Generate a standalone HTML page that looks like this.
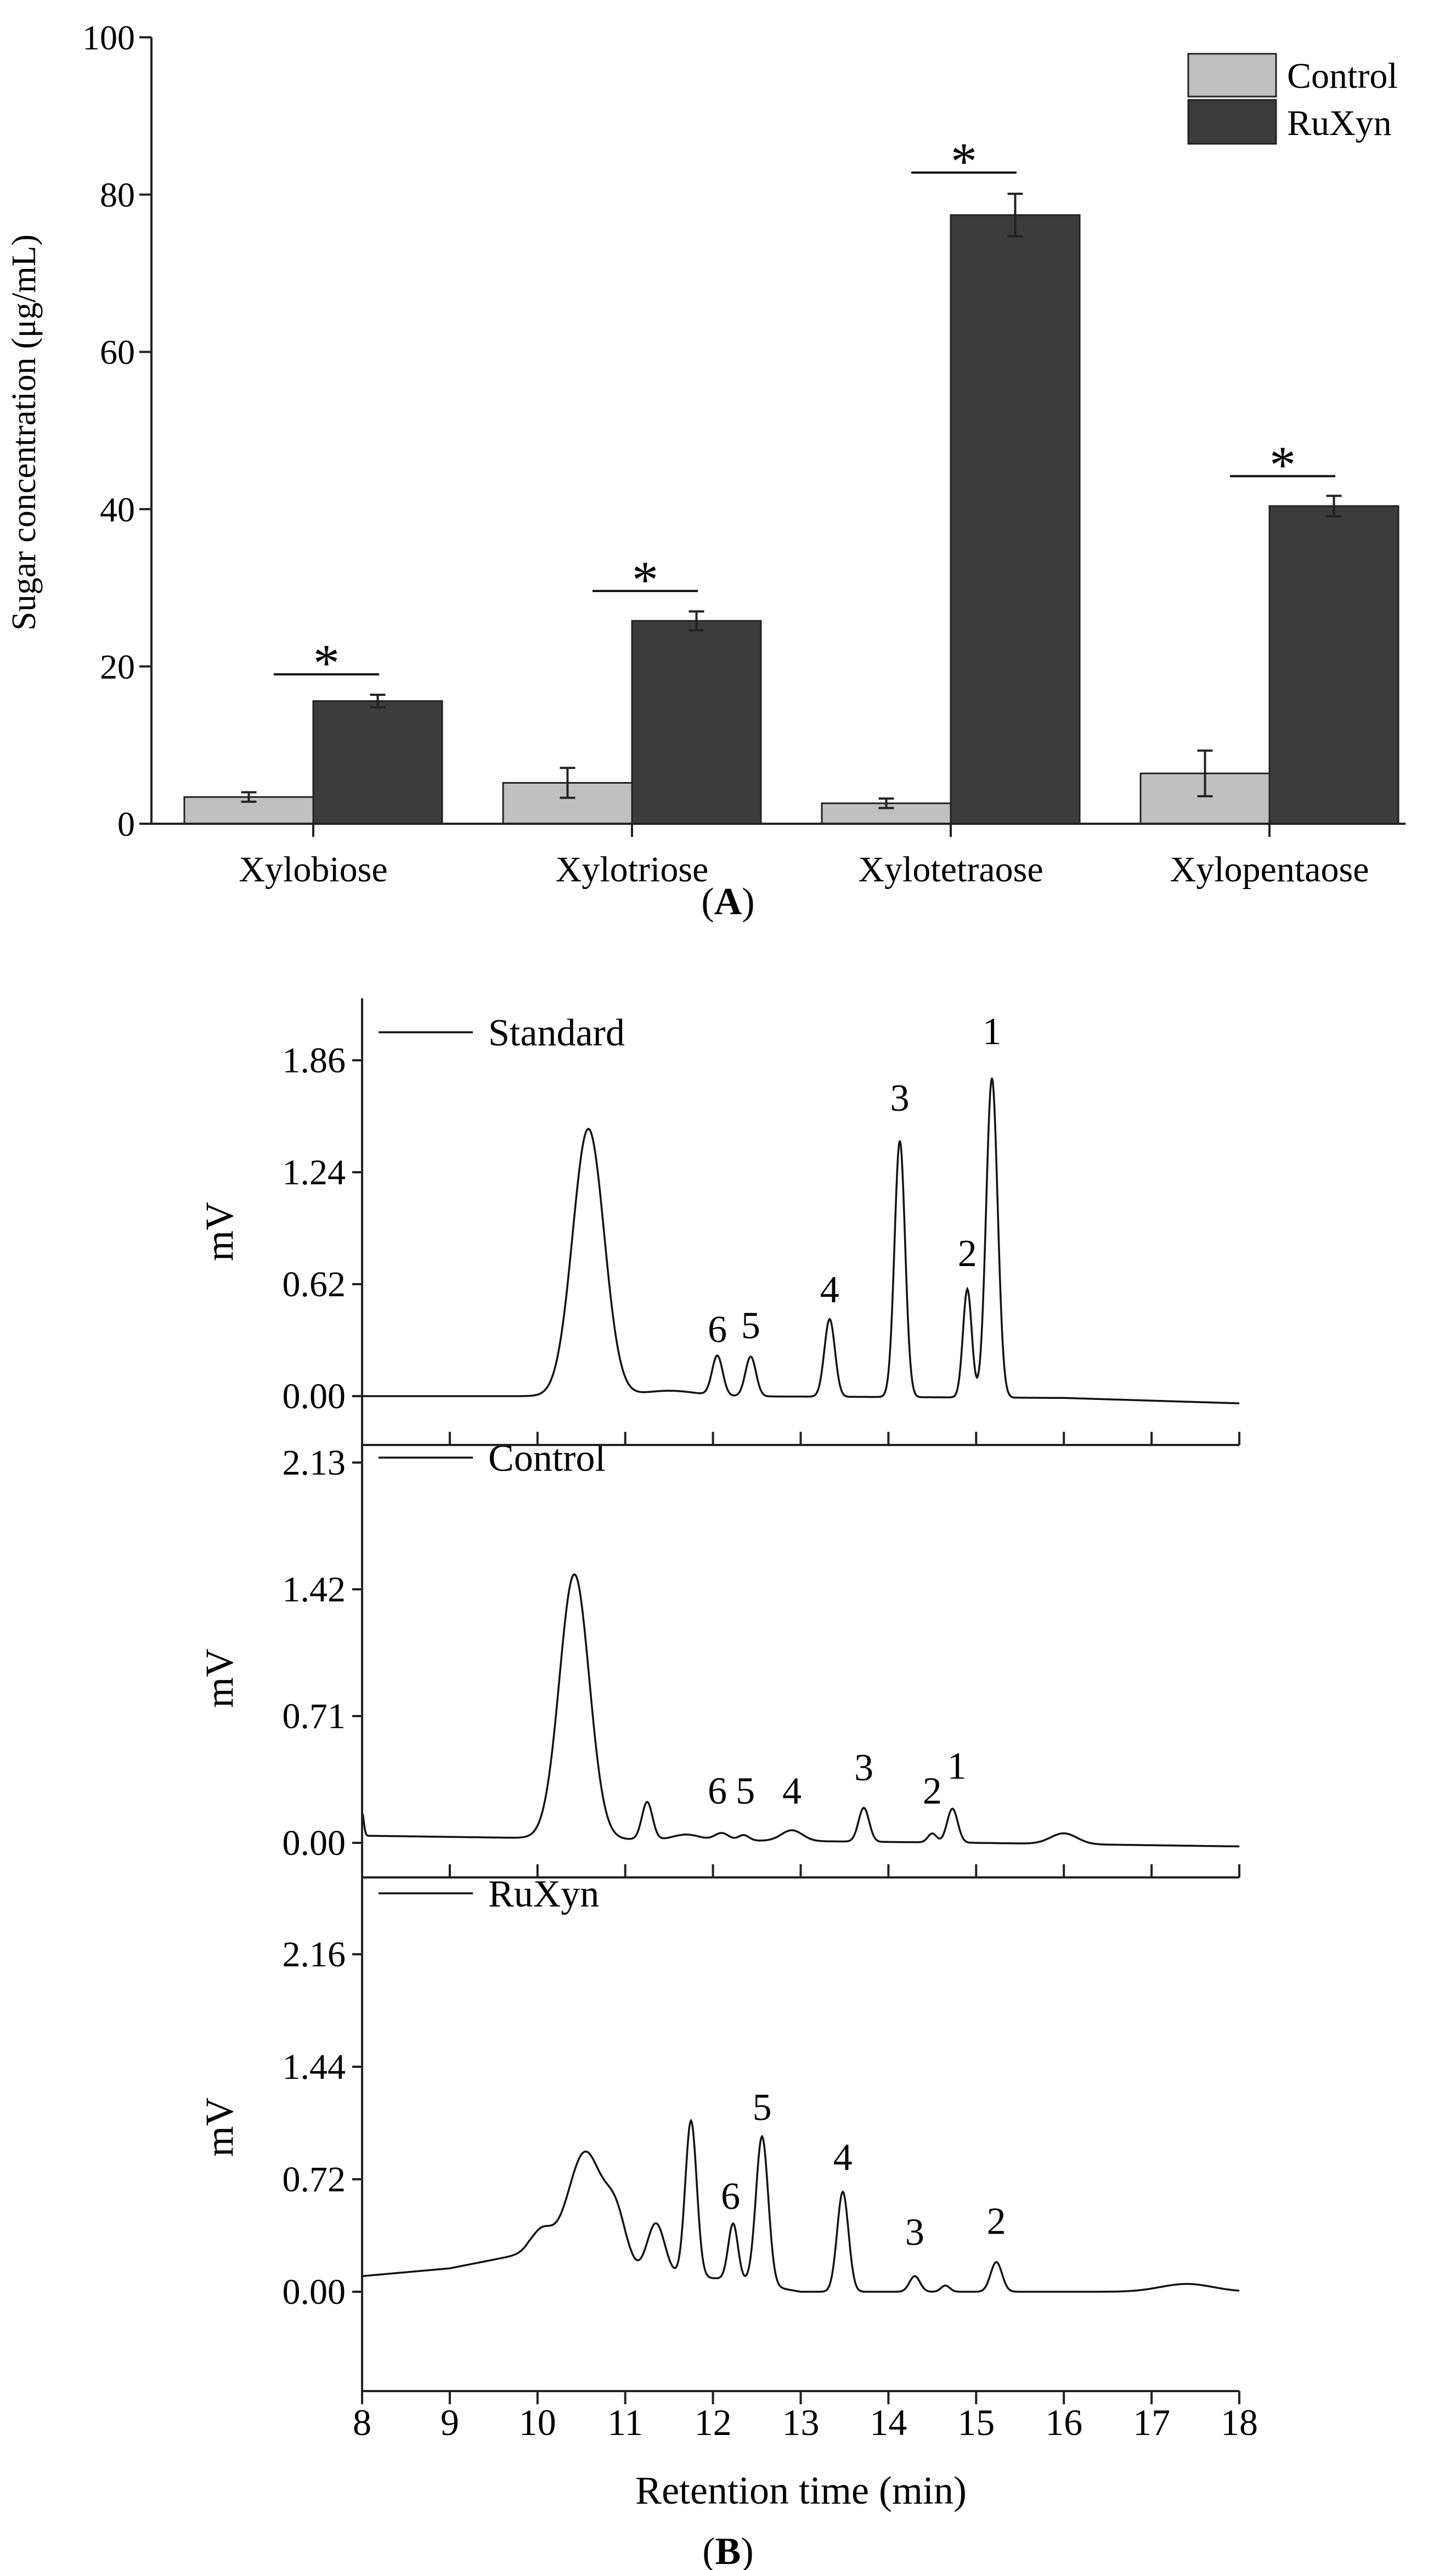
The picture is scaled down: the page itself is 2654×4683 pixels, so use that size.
<!DOCTYPE html>
<html><head><meta charset="utf-8"><style>
html,body{margin:0;padding:0;background:#fff}
svg{display:block;font-family:"Liberation Serif",serif}
</style></head><body>
<svg id="fig" width="2654" height="4683" viewBox="0 0 2654 4683" xmlns="http://www.w3.org/2000/svg"></svg>
<script>
// ---- Panel A data ----
const categories = ["Xylobiose","Xylotriose","Xylotetraose","Xylopentaose"];
const controlVals = [3.4,5.2,2.6,6.4];
const controlErr = [0.6,1.9,0.6,2.9];
const ruxynVals = [15.6,25.8,77.4,40.4];
const ruxynErr = [0.8,1.2,2.7,1.3];
const sigLevels = [19.0,29.6,82.8,44.2];
const yTicksA = [0,20,40,60,80,100];
// ---- Panel B data ----
const xTicksB = [8,9,10,11,12,13,14,15,16,17,18];
const stdTicks = ["0.00","0.62","1.24","1.86"];
const ctrlTicks = ["0.00","0.71","1.42","2.13"];
const ruxTicks = ["0.00","0.72","1.44","2.16"];
// peaks: [time, height, sigma]
const stdPeaks = [[10.58,1.48,0.18],[11.5,0.03,0.3],[12.05,0.22,0.06],[12.43,0.22,0.06],[13.33,0.43,0.06],[14.13,1.42,0.06],[14.9,0.6,0.05],[15.18,1.77,0.065]];
const stdBase = [[8,0],[12,0],[16,-0.01],[18,-0.04]];
const stdLabels = [["6",12.05,0.3],["5",12.43,0.32],["4",13.33,0.52],["3",14.13,1.58],["2",14.9,0.72],["1",15.18,1.95]];
const ctrlPeaks = [[8.0,0.13,0.02],[10.42,1.48,0.17],[11.25,0.21,0.06],[11.7,0.03,0.15],[12.1,0.04,0.08],[12.35,0.03,0.06],[12.9,0.06,0.12],[13.72,0.19,0.06],[14.5,0.05,0.05],[14.73,0.19,0.06],[16.0,0.06,0.15]];
const ctrlBase = [[8,0.04],[11,0.02],[15,0.0],[18,-0.02]];
const ctrlLabels = [["6",12.05,0.22],["5",12.37,0.22],["4",12.9,0.22],["3",13.72,0.35],["2",14.5,0.22],["1",14.78,0.36]];
const ruxPeaks = [[10.05,0.15,0.12],[10.55,0.72,0.2],[10.9,0.3,0.12],[11.35,0.33,0.1],[11.75,1.0,0.065],[12.23,0.36,0.055],[12.56,0.95,0.07],[13.48,0.64,0.065],[14.3,0.1,0.06],[14.65,0.04,0.05],[15.23,0.19,0.065],[17.4,0.05,0.3]];
const ruxBase = [[8,0.1],[9,0.15],[9.9,0.25],[11,0.12],[12.2,0.08],[13,0.0],[18,0.0]];
const ruxLabels = [["6",12.2,0.53],["5",12.56,1.1],["4",13.48,0.78],["3",14.3,0.3],["2",15.23,0.37]];

const NS="http://www.w3.org/2000/svg";
const svg=document.getElementById('fig');
function el(tag,attrs,parent,text){const e=document.createElementNS(NS,tag);for(const k in attrs)e.setAttribute(k,attrs[k]);if(text!==undefined)e.textContent=text;(parent||svg).appendChild(e);return e;}

// ---------- Panel A ----------
const A={x0:276,x1:2562,y0:1501,y1:68};
const yA=v=>A.y0-(v/100)*(A.y0-A.y1);
const groupW=581, barW=235;
const cx=i=>571+i*groupW;
const gA=el('g',{});

categories.forEach((c,i)=>{
  const c1=el('rect',{x:cx(i)-barW,y:yA(controlVals[i]),width:barW,height:yA(0)-yA(controlVals[i]),fill:'#c0c0c0',stroke:'#222','stroke-width':3},gA);
  
  const r1=el('rect',{x:cx(i),y:yA(ruxynVals[i]),width:barW,height:yA(0)-yA(ruxynVals[i]),fill:'#3c3c3c',stroke:'#222','stroke-width':3},gA);
  
  [[cx(i)-barW/2,controlVals[i],controlErr[i]],[cx(i)+barW/2,ruxynVals[i],ruxynErr[i]]].forEach(([x,v,e])=>{
    const eb=el('path',{d:`M${x},${yA(v-e)}V${yA(v+e)}M${x-14},${yA(v-e)}H${x+14}M${x-14},${yA(v+e)}H${x+14}`,stroke:'#222','stroke-width':4,fill:'none'},gA);
    
  });
  const sl=el('line',{x1:cx(i)-72,x2:cx(i)+120,y1:yA(sigLevels[i]),y2:yA(sigLevels[i]),stroke:'#111','stroke-width':4},gA);
  
  const st=el('text',{x:cx(i)+24,y:yA(sigLevels[i])+12,'font-size':96,'text-anchor':'middle'},gA,'*');
  
  const tk=el('line',{x1:cx(i),x2:cx(i),y1:A.y0,y2:A.y0+24,stroke:'#222','stroke-width':4},gA);
  
  const lb=el('text',{x:cx(i),y:1606,'font-size':66,'text-anchor':'middle'},gA,c);
  
});
const axA=el('path',{d:`M${A.x0},${A.y1}V${A.y0}H${A.x1}`,stroke:'#222','stroke-width':4,fill:'none'},gA);

yTicksA.forEach(v=>{
  const t=el('line',{x1:A.x0-22,x2:A.x0,y1:yA(v),y2:yA(v),stroke:'#222','stroke-width':4},gA);
  
  const l=el('text',{x:A.x0-30,y:yA(v)+22,'font-size':64,'text-anchor':'end'},gA,String(v));
  
});
const yt=el('text',{x:0,y:0,'font-size':62,'text-anchor':'middle',transform:'translate(64,788) rotate(-90)'},gA,'Sugar concentration (μg/mL)');

const lg=el('g',{},gA);
const lc=el('rect',{x:2166,y:98,width:160,height:78,fill:'#c0c0c0',stroke:'#222','stroke-width':3},lg);

const lr=el('rect',{x:2166,y:182,width:160,height:80,fill:'#3c3c3c',stroke:'#222','stroke-width':3},lg);

const lt1=el('text',{x:2346,y:160,'font-size':66},lg,'Control');

const lt2=el('text',{x:2346,y:246,'font-size':66},lg,'RuXyn');

const pa=el('text',{x:1327,y:1666,'font-size':70,'text-anchor':'middle'},svg);

pa.innerHTML='(<tspan font-weight="bold">A</tspan>)';

// ---------- Panel B ----------
const B={x0:660,x1:2259};
const xB=t=>B.x0+(t-8)/10*(B.x1-B.x0);
function baseAt(base,t){for(let i=0;i<base.length-1;i++){if(t>=base[i][0]&&t<=base[i+1][0]){const f=(t-base[i][0])/(base[i+1][0]-base[i][0]);return base[i][1]+f*(base[i+1][1]-base[i][1]);}}return base[base.length-1][1];}
function panel(name,zeroY,step,tickLabels,peaks,base,labels,legendText,legendY){
  const g=el('g',{});
  
  const tv=parseFloat(tickLabels[1]);
  const yv=v=>zeroY-v/tv*step;
  let d='';
  for(let t=8;t<=18.0001;t+=0.01){
    let v=baseAt(base,t);
    peaks.forEach(p=>{v+=p[1]*Math.exp(-0.5*((t-p[0])/p[2])**2);});
    d+=(d?'L':'M')+xB(t).toFixed(1)+','+yv(v).toFixed(1);
  }
  const tr=el('path',{d:d,stroke:'#111','stroke-width':3.5,fill:'none'},g);
  
  tickLabels.forEach(s=>{
    const v=parseFloat(s);
    const t=el('line',{x1:B.x0-18,x2:B.x0,y1:yv(v),y2:yv(v),stroke:'#222','stroke-width':4},g);
    
    const l=el('text',{x:B.x0-30,y:yv(v)+22,'font-size':66,'text-anchor':'end'},g,s);
    
  });
  labels.forEach(([s,t,v])=>{
    const l=el('text',{x:xB(t),y:yv(v),'font-size':70,'text-anchor':'middle'},g,s);
    
  });
  const ll=el('line',{x1:690,x2:862,y1:legendY,y2:legendY,stroke:'#111','stroke-width':3.5},g);
  
  const lt=el('text',{x:890,y:legendY+24,'font-size':70},g,legendText);
  
  const mv=el('text',{x:0,y:0,'font-size':72,'text-anchor':'middle',transform:`translate(424,${zeroY-300}) rotate(-90)`},g,'mV');
  
}
panel('standard',2544,204,stdTicks,stdPeaks,stdBase,stdLabels,'Standard',1881);
panel('control',3358,231,ctrlTicks,ctrlPeaks,ctrlBase,ctrlLabels,'Control',2656);
panel('ruxyn',4176,205,ruxTicks,ruxPeaks,ruxBase,ruxLabels,'RuXyn',3450);

const ax=el('g',{});
const lft=el('path',{d:`M${B.x0},1819V4357H${B.x1}M${B.x0},2633H${B.x1}M${B.x0},3421H${B.x1}`,stroke:'#222','stroke-width':4,fill:'none'},ax);

xTicksB.forEach(t=>{
  const tk=el('path',{d:`M${xB(t)},2633v-24M${xB(t)},3421v-24M${xB(t)},4357v24`,stroke:'#222','stroke-width':4},ax);
  
  const l=el('text',{x:xB(t),y:4437,'font-size':68,'text-anchor':'middle'},ax,String(t));
  
});
const xt=el('text',{x:1460,y:4562,'font-size':72,'text-anchor':'middle'},ax,'Retention time (min)');

const pb=el('text',{x:1327,y:4672,'font-size':70,'text-anchor':'middle'},svg);

pb.innerHTML='(<tspan font-weight="bold">B</tspan>)';
</script>
</body></html>
